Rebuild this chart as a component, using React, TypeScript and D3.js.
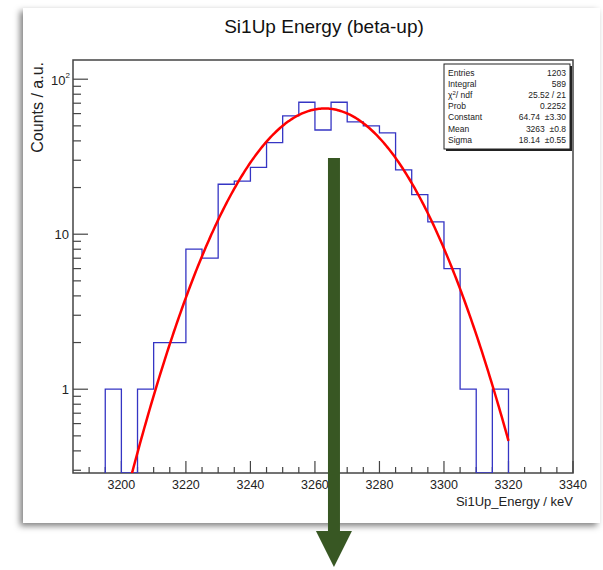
import React from "react";
import * as d3 from "d3";

// ---- data ----
const binEdges = [3195, 3200, 3205, 3210, 3215, 3220, 3225, 3230, 3235, 3240, 3245, 3250, 3255, 3260, 3265, 3270, 3275, 3280, 3285, 3290, 3295, 3300, 3305, 3310, 3315, 3320];
const binCounts = [1, 0, 1, 2, 2, 8, 7, 21, 22, 27, 39, 58, 71, 47, 71, 53, 50, 45, 26, 18, 12, 6, 1, 0, 1];
const xTicks = [3200, 3220, 3240, 3260, 3280, 3300, 3320, 3340];
const yMajorTicks = [1, 10, 100];
const fitConstant = 64.74;
const fitMean = 3263;
const fitSigma = 18.14;
const fitRange = [3195, 3320];
const statLabels = ["Entries", "Integral", "chi2", "Prob", "Constant", "Mean", "Sigma"];
const statValues = ["1203", "589", "25.52 / 21", "0.2252", "64.74  \u00b13.30", "3263  \u00b10.8", "18.14  \u00b10.55"];

const W = 603, H = 570;
const FL = 73, FR = 573, FT = 60, FB = 473;
const FONT = "'Liberation Sans', Arial, Helvetica, sans-serif";

export default function App() {
  const x = d3.scaleLinear().domain([3185, 3340]).range([FL, FR]);
  const y = d3.scaleLog().domain([0.288, 133]).range([FB, FT]);
  const yc = (v: number) => (v <= 0 ? FB : Math.min(FB, y(v)));

  // histogram step path
  let hp = `M${x(binEdges[0])},${FB}`;
  binCounts.forEach((c, i) => {
    hp += `L${x(binEdges[i])},${yc(c)}L${x(binEdges[i + 1])},${yc(c)}`;
  });
  hp += `L${x(binEdges[binEdges.length - 1])},${FB}`;

  // fit curve (Gaussian from the fit parameters)
  const gauss = (e: number) => fitConstant * Math.exp(-((e - fitMean) ** 2) / (2 * fitSigma * fitSigma));
  const pts: [number, number][] = d3.range(0, 301).map((k) => {
    const e = fitRange[0] + ((fitRange[1] - fitRange[0]) * k) / 300;
    return [e, gauss(e)];
  });
  const line = d3.line<[number, number]>().x((d) => x(d[0])).y((d) => y(d[1]));

  // minor ticks
  const xMinor = d3.range(3190, 3341, 5).filter((v) => v % 20 !== 0);
  const yMinor: number[] = [];
  [0.1, 1, 10].forEach((dec) => {
    for (let m = 2; m <= 9; m++) {
      const v = dec * m;
      if (v >= 0.288 && v <= 133) yMinor.push(v);
    }
  });

  const arrowX = x(3265.9);

  return (
    <svg width={W} height={H} style={{ position: "absolute", left: 0, top: 0, background: "#fff" }} fontFamily={FONT}>
      <defs>
        <filter id="sh" x="-10%" y="-10%" width="120%" height="120%">
          <feDropShadow dx={-3} dy={3} stdDeviation={3} floodColor="#000" floodOpacity={0.5} />
        </filter>
        <clipPath id="fc">
          <rect x={FL} y={FT} width={FR - FL} height={FB - FT} />
        </clipPath>
      </defs>
      <rect x={23} y={8} width={577} height={515} fill="#fff" filter="url(#sh)" />

      {/* title */}
      <text x={324} y={33} fontSize={19} textAnchor="middle" fill="#111">Si1Up Energy (beta-up)</text>

      {/* frame */}
      <rect x={FL} y={FT} width={FR - FL} height={FB - FT} fill="none" stroke="#444" strokeWidth={1.5} />

      {/* x ticks */}
      {xTicks.map((t) => (
        <g key={t}>
          <line x1={x(t)} x2={x(t)} y1={FB} y2={FB - 12} stroke="#444" strokeWidth={1.2} />
          <text x={x(t)} y={489} fontSize={12.5} textAnchor="middle" fill="#222">{t}</text>
        </g>
      ))}
      {xMinor.map((t) => (
        <line key={t} x1={x(t)} x2={x(t)} y1={FB} y2={FB - 6} stroke="#444" strokeWidth={1.2} />
      ))}

      {/* y ticks */}
      {yMajorTicks.map((t) => (
        <g key={t}>
          <line x1={FL} x2={FL + 15} y1={y(t)} y2={y(t)} stroke="#444" strokeWidth={1.2} />
          {t === 100 ? (
            <text x={70} y={y(t) + 6} fontSize={13} textAnchor="end" fill="#222">
              10<tspan fontSize={8} dy={-7}>2</tspan>
            </text>
          ) : (
            <text x={69} y={y(t) + 5} fontSize={13} textAnchor="end" fill="#222">{t}</text>
          )}
        </g>
      ))}
      {yMinor.map((t) => (
        <line key={t} x1={FL} x2={FL + 8} y1={y(t)} y2={y(t)} stroke="#444" strokeWidth={1.2} />
      ))}

      {/* axis titles */}
      <text x={FR} y={506} fontSize={13} textAnchor="end" fill="#222">Si1Up_Energy / keV</text>
      <text transform={`translate(43,62) rotate(-90)`} fontSize={16} textAnchor="end" fill="#222">Counts / a.u.</text>

      {/* histogram and fit */}
      <g clipPath="url(#fc)">
        <path d={hp} fill="none" stroke="#3535c4" strokeWidth={1.3} />
        <path d={line(pts) || ""} fill="none" stroke="#ff0000" strokeWidth={2.5} />
      </g>

      {/* stat box */}
      <rect x={446} y={66} width={126} height={85} fill="#222" />
      <rect x={444} y={64} width={126} height={85} fill="#fff" stroke="#222" strokeWidth={1} />
      {statLabels.map((l, i) => {
        const by = 76 + i * 11.1;
        return (
          <g key={l} fontSize={8.5} fill="#222">
            <text x={448} y={by}>
              {l === "chi2" ? (
                <>
                  {"\u03c7"}<tspan fontSize={6} dy={-3}>2</tspan><tspan dy={3}>/ ndf</tspan>
                </>
              ) : l}
            </text>
            <text x={566} y={by} textAnchor="end" style={{ whiteSpace: "pre" }}>{statValues[i]}</text>
          </g>
        );
      })}

      {/* annotation arrow */}
      <rect x={arrowX - 6} y={158} width={12} height={374} fill="#385723" />
      <path d={`M${arrowX - 18},531L${arrowX + 18},531L${arrowX},567Z`} fill="#385723" />
    </svg>
  );
}
